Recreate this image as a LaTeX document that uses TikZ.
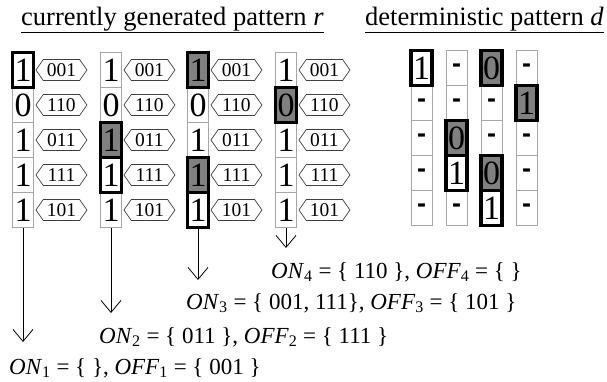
\documentclass[tikz,border=0pt]{standalone}
\usepackage{fontspec}
\setmainfont{Liberation Serif}
\setsansfont{Liberation Sans}
\tikzstyle{cell}=[rectangle,draw=gray!70,fill=white,line width=0.8pt,minimum width=21pt,minimum height=35pt,inner sep=0pt,outer sep=0pt,font=\fontsize{34}{34}\selectfont]
\tikzstyle{hitw}=[cell,draw=black,line width=3.5pt]
\tikzstyle{hitg}=[hitw,fill=gray]
\tikzstyle{codebox}=[signal,signal to=west and east,signal pointer angle=110,draw=black!75,line width=0.7pt,minimum width=51pt,minimum height=21pt,inner xsep=1pt,inner ysep=1.5pt,font=\fontsize{19.5}{19.5}\selectfont]
\tikzstyle{lbl}=[inner sep=0pt,anchor=west,font=\fontsize{23}{23}\selectfont]
\tikzstyle{ttl}=[inner sep=0pt,anchor=base west,font=\fontsize{26.5}{26.5}\selectfont]
\usetikzlibrary{arrows.meta}
\usetikzlibrary{positioning}
\usetikzlibrary{shapes.symbols}
\newcommand{\dsh}{{\sffamily\bfseries\fontsize{27}{27}\selectfont -}}

\begin{document}
\begin{tikzpicture}[x=1pt, y=-1pt, >={Straight Barb[length=12pt,width=20pt]}]
    \useasboundingbox (0,0) rectangle (607,381);
    \node[ttl] (ttlr) at (21,25) {\underline{currently generated pattern \textit{r}}};
    \node[ttl] (ttld) at (365,25) {\underline{deterministic pattern \textit{d}}};
    \foreach \r/\v/\s in {2/0/cell,3/1/cell,4/1/cell,5/1/cell,1/1/hitw}
        \node[\s] (r1-\r) at (23, 35*\r+35) {\v};
    \foreach \r/\v/\s in {1/1/cell,2/0/cell,5/1/cell,3/1/hitg,4/1/hitw}
        \node[\s] (r2-\r) at (111, 35*\r+35) {\v};
    \foreach \r/\v/\s in {2/0/cell,3/1/cell,1/1/hitg,4/1/hitg,5/1/hitw}
        \node[\s] (r3-\r) at (198, 35*\r+35) {\v};
    \foreach \r/\v/\s in {1/1/cell,3/1/cell,4/1/cell,5/1/cell,2/0/hitg}
        \node[\s] (r4-\r) at (286, 35*\r+35) {\v};
    \foreach \bits [count=\r] in {001,110,011,111,101} {
        \foreach \c in {1,...,4} {
            \node[codebox, right=2pt of r\c-\r] (code\c-\r) {\bits};
        };
    };
    \foreach \r/\v/\s in {2/\dsh/cell,3/\dsh/cell,4/\dsh/cell,5/\dsh/cell,1/1/hitw}
        \node[\s] (d1-\r) at (421.5, 35*\r+33) {\v};
    \foreach \r/\v/\s in {1/\dsh/cell,2/\dsh/cell,5/\dsh/cell,3/0/hitg,4/1/hitw}
        \node[\s] (d2-\r) at (456.5, 35*\r+33) {\v};
    \foreach \r/\v/\s in {2/\dsh/cell,3/\dsh/cell,1/0/hitg,4/0/hitg,5/1/hitw}
        \node[\s] (d3-\r) at (491.5, 35*\r+33) {\v};
    \foreach \r/\v/\s in {1/\dsh/cell,3/\dsh/cell,4/\dsh/cell,5/\dsh/cell,2/1/hitg}
        \node[\s] (d4-\r) at (526.5, 35*\r+33) {\v};
    \node[lbl] (on1) at (9,368) {\textit{ON}\textsubscript{1} = \{ \}, \textit{OFF}\textsubscript{1} = \{ 001 \}};
    \node[lbl] (on2) at (99,337) {\textit{ON}\textsubscript{2} = \{ 011 \}, \textit{OFF}\textsubscript{2} = \{ 111 \}};
    \node[lbl] (on3) at (186,303) {\textit{ON}\textsubscript{3} = \{ 001, 111\}, \textit{OFF}\textsubscript{3} = \{ 101 \}};
    \node[lbl] (on4) at (271,272) {\textit{ON}\textsubscript{4} = \{ 110 \}, \textit{OFF}\textsubscript{4} = \{ \}};
    \coordinate (tip1) at (23,342);
    \coordinate (tip2) at (111,313);
    \coordinate (tip3) at (198,280);
    \coordinate (tip4) at (286,248);
    \foreach \c in {1,...,4} {
        \draw[->, line width=0.8pt] (r\c-5.south) -- (tip\c);
    };
\end{tikzpicture}
\end{document}
